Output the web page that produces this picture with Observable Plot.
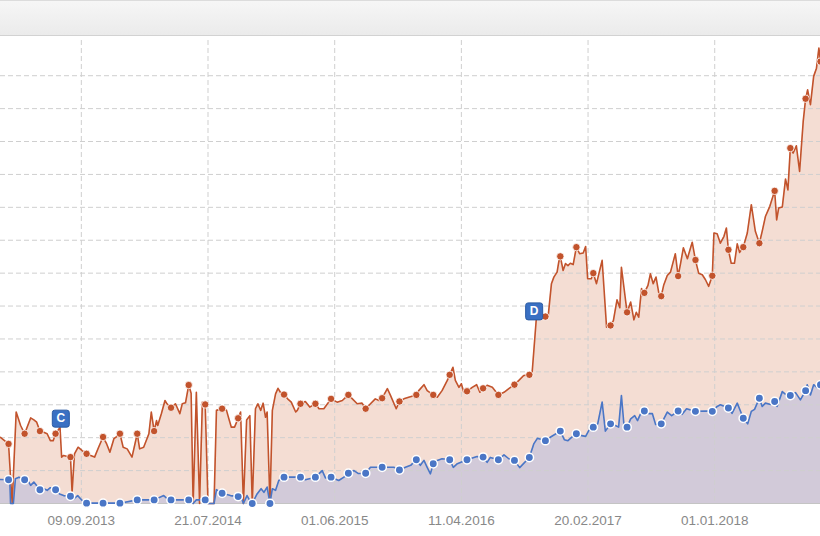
<!DOCTYPE html>
<html><head><meta charset="utf-8">
<script src="https://cdn.jsdelivr.net/npm/d3@7"></script>
<script src="https://cdn.jsdelivr.net/npm/@observablehq/plot@0.6"></script>
<style>
html,body{margin:0;padding:0;background:#fff;}
#header{height:34px;border-top:1px solid #dcdcdc;border-bottom:1px solid #d2d2d2;background:linear-gradient(#f6f6f6,#ebebeb);}
#chart{width:820px;height:500px;}
</style></head><body>
<div id="header"></div>
<div id="chart"></div>
<script>
// ---- data (day offsets from startDate, index values) ----
const startDate = "2013-02-20";
const endDay = 2039;
const tickDates = ["2013-09-09","2014-07-21","2015-06-01","2016-04-11","2017-02-20","2018-01-01"];
const tickLabels = ["09.09.2013","21.07.2014","01.06.2015","11.04.2016","20.02.2017","01.01.2018"];
const gridValues = [10,20,30,40,50,60,70,80,90,100,110,120,130];
const markerDays = [20,60,98,137,174,214,255,297,340,382,424,468,509,551,591,626,670,705,746,783,822,865,908,949,992,1034,1076,1117,1160,1200,1238,1278,1315,1355,1392,1432,1474,1517,1558,1601,1643,1685,1728,1770,1810,1847,1887,1925,1964,2002,2039];
const orangeSeries = [[0,20.1],[20,18.1],[29,0],[39,27.8],[50,23.7],[60,21.2],[75,26.0],[83,25.4],[90,24.7],[98,22.0],[106,21.7],[116,21.2],[124,19.1],[131,19.1],[137,21.2],[148,23.1],[152,14.1],[157,14.6],[166,14.3],[174,14.1],[178,3.4],[184,15.1],[193,17.1],[203,16.1],[214,15.1],[224,14.6],[234,14.1],[244,17.1],[255,20.2],[264,18.1],[272,15.6],[282,19.7],[290,20.4],[297,21.2],[305,17.1],[315,16.6],[327,14.1],[340,21.2],[346,16.6],[356,17.1],[369,21.2],[375,27.8],[382,22.0],[388,25.2],[391,23.7],[400,27.3],[409,31.3],[414,30.3],[424,29.1],[435,30.3],[446,27.3],[452,30.3],[460,30.6],[468,36.0],[474,33.5],[479,0],[487,33.8],[495,0],[502,30.8],[509,30.1],[516,0],[531,0],[537,28.3],[551,28.8],[562,28.3],[568,25.7],[574,23.2],[582,23.2],[591,25.9],[597,27.8],[604,0],[612,25.4],[620,26.7],[626,0],[634,28.8],[640,30.3],[647,28.3],[653,30.5],[659,26.2],[663,27.8],[670,0],[676,28.3],[684,33.3],[690,35.0],[696,33.8],[705,33.1],[714,31.8],[723,30.8],[734,27.8],[738,28.3],[746,30.3],[758,31.0],[769,29.3],[783,30.3],[792,28.8],[804,28.8],[822,31.8],[837,30.8],[850,31.3],[865,33.0],[875,31.8],[887,30.3],[899,30.5],[908,28.8],[920,30.3],[932,31.8],[941,31.3],[949,32.0],[962,34.9],[970,32.8],[984,28.8],[992,31.0],[1003,31.8],[1015,32.3],[1034,33.0],[1040,34.3],[1053,36.1],[1061,34.3],[1076,33.0],[1086,32.3],[1098,34.3],[1111,37.4],[1117,39.1],[1125,41.4],[1131,37.4],[1140,35.3],[1146,36.4],[1152,33.8],[1160,34.1],[1173,35.3],[1184,36.1],[1192,33.8],[1200,35.0],[1210,35.9],[1223,35.3],[1238,33.0],[1252,33.8],[1264,34.9],[1278,36.1],[1289,37.4],[1301,38.9],[1315,39.1],[1322,39.8],[1332,55.6],[1336,57.7],[1345,56.5],[1355,56.8],[1362,57.1],[1370,66.8],[1376,68.8],[1384,70.3],[1388,73.3],[1392,75.1],[1399,70.8],[1405,72.9],[1411,72.3],[1417,73.0],[1424,72.6],[1432,77.9],[1440,75.9],[1449,76.1],[1455,78.1],[1460,68.3],[1469,68.3],[1474,70.0],[1482,66.8],[1496,73.9],[1507,53.6],[1517,54.1],[1524,55.6],[1533,61.9],[1540,59.5],[1544,71.8],[1558,58.1],[1567,61.2],[1575,55.8],[1581,58.1],[1587,56.6],[1594,65.3],[1601,64.0],[1610,66.3],[1616,69.8],[1623,66.8],[1630,68.8],[1637,63.9],[1643,63.0],[1649,66.3],[1658,69.3],[1666,70.3],[1678,75.9],[1685,69.1],[1691,72.9],[1698,77.7],[1708,74.4],[1720,79.4],[1728,74.0],[1736,70.0],[1745,69.5],[1753,68.0],[1761,66.0],[1770,69.2],[1774,82.2],[1782,82.0],[1790,79.1],[1799,81.2],[1805,83.7],[1810,77.1],[1817,73.0],[1825,73.0],[1832,78.9],[1838,76.3],[1847,77.9],[1857,82.2],[1867,90.8],[1877,82.7],[1887,79.1],[1894,82.7],[1902,87.2],[1913,90.3],[1925,95.0],[1930,86.2],[1935,89.8],[1944,90.1],[1952,98.6],[1958,95.3],[1964,108.0],[1971,106.5],[1979,108.7],[1987,100.9],[1996,116.1],[2002,123.0],[2007,125.7],[2014,121.2],[2022,129.8],[2029,132.3],[2035,138.4],[2039,134.3]];
const blueSeries = [[0,7.3],[20,7.2],[23,7.0],[25,0],[32,0],[37,7.5],[46,8.0],[60,7.2],[66,7.5],[75,5.5],[83,6.5],[98,4.2],[108,4.5],[116,4.0],[124,4.8],[137,4.2],[147,2.9],[157,2.4],[174,2.2],[182,1.4],[192,2.4],[203,0.9],[214,0.1],[255,0.1],[297,0.1],[340,1.1],[382,1.1],[406,2.4],[415,1.4],[424,1.1],[468,1.1],[479,0],[487,1.1],[509,1.1],[516,0],[531,0],[537,4.2],[551,3.1],[572,2.4],[591,2.1],[597,2.4],[604,0],[613,2.4],[622,0.4],[626,0],[638,2.9],[648,4.5],[655,3.4],[663,5.0],[670,0],[676,4.5],[684,4.0],[692,7.0],[705,8.0],[746,8.0],[758,7.2],[783,8.0],[800,10.0],[808,7.8],[822,8.0],[841,7.0],[854,8.0],[865,9.2],[879,10.0],[890,9.1],[908,9.2],[920,11.0],[949,11.0],[978,11.0],[992,10.2],[1007,11.0],[1020,11.6],[1034,13.3],[1044,11.6],[1053,13.1],[1061,11.0],[1069,9.0],[1076,12.1],[1086,13.1],[1098,13.6],[1117,13.3],[1126,11.0],[1136,12.1],[1160,13.3],[1185,14.3],[1200,14.1],[1210,12.5],[1218,14.0],[1238,13.3],[1252,14.8],[1264,13.6],[1278,13.1],[1291,10.9],[1315,14.0],[1326,18.1],[1335,19.8],[1355,19.1],[1368,20.2],[1392,22.0],[1402,19.4],[1411,19.1],[1420,20.1],[1432,21.2],[1442,20.7],[1455,20.4],[1463,22.2],[1474,23.2],[1485,24.2],[1496,30.8],[1504,22.0],[1517,24.2],[1529,23.7],[1537,23.2],[1544,32.8],[1550,24.3],[1558,23.2],[1567,25.7],[1577,26.7],[1584,25.2],[1591,27.1],[1601,28.1],[1612,27.3],[1621,27.3],[1629,24.0],[1643,24.2],[1658,27.8],[1669,26.7],[1685,28.1],[1695,27.1],[1706,28.8],[1728,28.0],[1757,28.1],[1770,28.0],[1782,29.5],[1790,30.0],[1810,29.0],[1819,27.4],[1832,30.5],[1847,25.9],[1858,24.2],[1867,28.0],[1875,28.6],[1887,32.0],[1894,29.5],[1902,30.5],[1915,30.1],[1925,31.0],[1931,29.5],[1944,34.0],[1953,33.1],[1964,32.8],[1977,33.7],[1989,31.5],[2002,34.3],[2006,36.1],[2014,33.0],[2022,36.1],[2030,35.3],[2039,36.1]];
const flagLabels = ["C","D"];
const flagDays = [150,1327];
const flagValues = [23.2,55.8];

// ---- build ----
const base = new Date(startDate + "T00:00:00Z");
const toDate = d => new Date(base.getTime() + d * 864e5);
const markerSet = new Set(markerDays);
const orange = orangeSeries.map(([d, v]) => ({day: d, date: toDate(d), value: v}));
const blue = blueSeries.map(([d, v]) => ({day: d, date: toDate(d), value: v}));
const flags = flagLabels.map((l, i) => ({label: l, date: toDate(flagDays[i]), value: flagValues[i]}));
const ticks = tickDates.map(s => new Date(s + "T00:00:00Z"));
const labelMap = new Map(ticks.map((t, i) => [+t, tickLabels[i]]));

const roundedSquare = {
  draw(ctx) {
    const s = 8.5, r = 2.5;
    ctx.moveTo(-s + r, -s);
    ctx.arcTo(s, -s, s, s, r);
    ctx.arcTo(s, s, -s, s, r);
    ctx.arcTo(-s, s, -s, -s, r);
    ctx.arcTo(-s, -s, s, -s, r);
    ctx.closePath();
  }
};

const ORANGE = "#c2532c", BLUE = "#4a76c6";
const grid = {stroke: "#cfcfcf", strokeDasharray: "5,3", strokeWidth: 1};

const chart = Plot.plot({
  width: 820, height: 500,
  marginLeft: 0, marginRight: 0, marginTop: 4, marginBottom: 33,
  style: {fontFamily: "'Liberation Sans', Arial, sans-serif", color: "#888", background: "#fff"},
  x: {type: "utc", domain: [toDate(0), toDate(endDay)]},
  y: {domain: [0, 140.7], axis: null},
  marks: [
    Plot.areaY(orange, {x: "date", y: "value", fill: "#f4ddd3"}),
    Plot.areaY(blue, {x: "date", y: "value", fill: "#d2cad9"}),
    Plot.ruleY(gridValues, grid),
    Plot.ruleX(ticks, grid),
    Plot.ruleY([0], {stroke: "#c4c4c4"}),
    Plot.lineY(orange, {x: "date", y: "value", stroke: ORANGE, strokeWidth: 1.6}),
    Plot.lineY(blue, {x: "date", y: "value", stroke: BLUE, strokeWidth: 1.6}),
    Plot.dot(orange.filter(d => markerSet.has(d.day)), {x: "date", y: "value", r: 3.7, fill: ORANGE, stroke: "#fff", strokeWidth: 0.8}),
    Plot.dot(blue.filter(d => markerSet.has(d.day)), {x: "date", y: "value", r: 4.2, fill: BLUE, stroke: "#fff", strokeWidth: 1.5}),
    Plot.dot(flags, {x: "date", y: "value", symbol: roundedSquare, r: 9, fill: "#3a70c3", stroke: "#2a5aa3", strokeWidth: 1, dy: -8.5}),
    Plot.text(flags, {x: "date", y: "value", text: "label", dy: -8.5, fill: "#fff", fontWeight: "bold", fontSize: 12}),
    Plot.axisX(ticks, {tickSize: 0, tickPadding: 12, fontSize: 13.5, tickFormat: d => labelMap.get(+d)})
  ]
});
document.getElementById("chart").appendChild(chart);
</script></body></html>
